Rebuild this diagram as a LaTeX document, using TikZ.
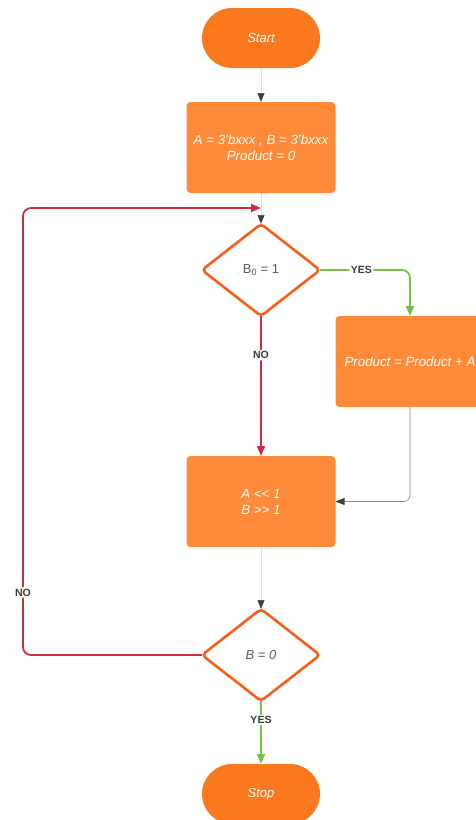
\documentclass[tikz,border=0pt]{standalone}
\usepackage{fontspec}
\setmainfont{Liberation Sans}
\usetikzlibrary{positioning,shapes.geometric,arrows.meta}
\definecolor{termorange}{HTML}{FA781E}
\definecolor{boxorange}{HTML}{FF8A3A}
\definecolor{decorange}{HTML}{F2601A}
\definecolor{nored}{HTML}{C9303F}
\definecolor{yesgreen}{HTML}{7CBF45}
\definecolor{lbltext}{HTML}{3A3A3A}

\begin{document}
\begin{tikzpicture}[x=1pt,y=-1pt,font=\fontsize{12}{14}\selectfont,
  term/.style={rectangle, rounded corners=30pt, fill=termorange, text=white, minimum width=118pt, minimum height=60pt, outer sep=0pt, font=\fontsize{13}{15}\selectfont\itshape},
  proc/.style={rectangle, rounded corners=4pt, fill=boxorange, text=white, minimum width=149pt, minimum height=91pt, outer sep=0pt, align=center, font=\fontsize{13.3}{16}\selectfont\itshape},
  decision/.style={diamond, draw=decorange, line width=2.6pt, rounded corners=4pt, fill=white, text=black!65, minimum width=118pt, minimum height=92pt, inner sep=0pt, outer sep=0pt, font=\fontsize{13}{15}\selectfont},
  flow/.style={black!12, line width=0.6pt, -{Triangle[width=7pt,length=9pt,color=black!75]}},
  yesline/.style={yesgreen, line width=1.8pt, rounded corners=8pt, -{Triangle[width=8pt,length=10pt]}},
  noline/.style={nored, line width=1.8pt, rounded corners=8pt, -{Triangle[width=8pt,length=10pt]}},
  lbl/.style={fill=white, inner sep=1.5pt, text=lbltext, font=\fontsize{10.5}{12}\selectfont\bfseries}]
    \useasboundingbox (0,0) rectangle (475,820);
    % nodes
    \node[term] (start) at (261,38) {Start};
    \node[proc, below=34pt of start] (init) {A = 3'bxxx , B = 3'bxxx\\Product = 0};
    \node[decision, below=31pt of init] (bzero) {B\textsubscript{0} = 1};
    \node[proc] (addprod) at (410,361.5) {Product = Product + A};
    \node[proc, below=140pt of bzero] (shift) {A <{}< 1\\B >{}> 1};
    \node[decision, below=62pt of shift] (bdone) {\itshape B = 0};
    \node[term, below=63pt of bdone] (stop) {Stop};
    \coordinate (merge) at (261,208);
    \coordinate (loopx) at (23,0);
    % arrows
    \draw[flow] (start) -- (init);
    \draw[flow] (init) -- (bzero);
    \draw[flow] (shift) -- (bdone);
    \draw[yesline] (bzero.east) -| node[lbl, pos=0.23]{YES} (addprod.north);
    \draw[noline] (bzero.south) -- node[lbl, pos=0.28]{NO} (shift.north);
    \draw[flow, black!45, rounded corners=6pt] (addprod.south) |- (shift.east);
    \draw[yesline] (bdone.south) -- node[lbl, pos=0.3]{YES} (stop.north);
    % loop back
    \draw[noline] (bdone.west) -- (bdone.west -| loopx) -- node[lbl, pos=0.14]{NO} (loopx |- merge) -- (merge);
\end{tikzpicture}
\end{document}
